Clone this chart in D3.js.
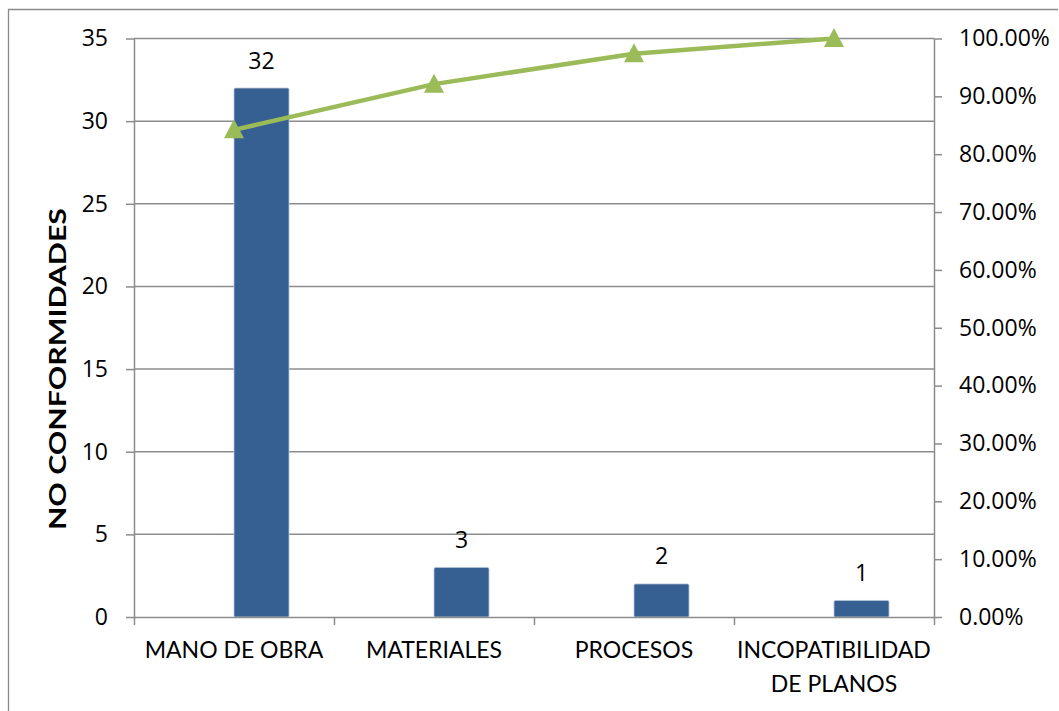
<!DOCTYPE html>
<html><head><meta charset="utf-8">
<script src="https://cdn.jsdelivr.net/npm/d3@7"></script>
<style>html,body{margin:0;padding:0;background:#fff;overflow:hidden}svg{display:block}text{font-family:Lato,"Open Sans",sans-serif;fill:#000}</style>
</head><body>
<svg id="c" width="1059" height="711"></svg>
<script>
const categories = ["MANO DE OBRA", "MATERIALES", "PROCESOS", "INCOPATIBILIDAD DE PLANOS"];
const categoryLines = [["MANO DE OBRA"], ["MATERIALES"], ["PROCESOS"], ["INCOPATIBILIDAD", "DE PLANOS"]];
const counts = [32, 3, 2, 1];
const cumulativePct = [0.8421, 0.9211, 0.9737, 1.0];
const leftTicks = [0, 5, 10, 15, 20, 25, 30, 35];
const rightTicks = [0, 0.1, 0.2, 0.3, 0.4, 0.5, 0.6, 0.7, 0.8, 0.9, 1.0];
const yTitle = "NO CONFORMIDADES";

const svg = d3.select("#c");
const L = 134, R = 934, T = 38.5, B = 617;
const gray = "#8c8c8c";
const FS = 23;
const NUMFONT = "'Open Sans', Lato, sans-serif";
const NFS = 23;

// outer border
svg.append("path").attr("d", `M8.5,711 V9.5 H1058`).attr("fill","none").attr("stroke","#8a8a8a").attr("stroke-width",1.3);

const x = d3.scaleBand().domain(categories).range([L, R]).padding(0);
const y = d3.scaleLinear().domain([0, 35]).range([B, T]);
const y2 = d3.scaleLinear().domain([0, 1]).range([B, T]);

// gridlines
svg.append("g").selectAll("line").data(leftTicks.filter(d=>d>0)).join("line")
  .attr("x1", L).attr("x2", R).attr("y1", d=>y(d)).attr("y2", d=>y(d))
  .attr("stroke", gray).attr("stroke-width", 1.5);

// bars: start at category center
const bw = 55;
svg.append("g").selectAll("rect").data(counts).join("rect")
  .attr("x", (d,i)=>x(categories[i]) + x.bandwidth()/2)
  .attr("y", d=>y(d)).attr("width", bw).attr("height", d=>B - y(d))
  .attr("fill", "#376092").attr("stroke", "#b7c4d6").attr("stroke-width", 0.8).attr("rx", 1.5);

// bar labels
svg.append("g").selectAll("text").data(counts).join("text")
  .attr("x", (d,i)=>x(categories[i]) + x.bandwidth()/2 + bw/2)
  .attr("y", d=>y(d) - 19.5).attr("text-anchor","middle")
  .style("font-family", NUMFONT).attr("font-size", NFS).text(d=>d);

// left axis
const gl = svg.append("g").attr("transform", `translate(${L},0)`)
  .call(d3.axisLeft(y).tickValues(leftTicks).tickSize(8).tickPadding(18).tickSizeOuter(0));
gl.select(".domain").attr("stroke", gray).attr("stroke-width", 1.5);
gl.selectAll(".tick line").attr("stroke", gray).attr("stroke-width", 1.5);
gl.selectAll(".tick text").attr("font-size", NFS).style("font-family", NUMFONT).attr("fill","#000");

// right axis
const gr = svg.append("g").attr("transform", `translate(${R},0)`)
  .call(d3.axisRight(y2).tickValues(rightTicks).tickSize(8).tickPadding(17).tickSizeOuter(0).tickFormat(d3.format(".2%")));
gr.select(".domain").attr("stroke", gray).attr("stroke-width", 1.5);
gr.selectAll(".tick line").attr("stroke", gray).attr("stroke-width", 1.5);
gr.selectAll(".tick text").attr("font-size", NFS).style("font-family", NUMFONT).attr("fill","#000");

// bottom axis
const xb = d3.scaleLinear().domain([0, categories.length]).range([L, R]);
const gb = svg.append("g").attr("transform", `translate(0,${B})`)
  .call(d3.axisBottom(xb).tickValues(d3.range(categories.length+1)).tickSize(8).tickFormat("").tickSizeOuter(0));
gb.select(".domain").attr("stroke", gray).attr("stroke-width", 1.5);
gb.selectAll(".tick line").attr("stroke", gray).attr("stroke-width", 1.5);

// category labels
const cl = svg.append("g").selectAll("text").data(categoryLines).join("text")
  .attr("x", (d,i)=>x(categories[i]) + x.bandwidth()/2)
  .attr("y", 658).attr("text-anchor","middle").attr("font-size", FS);
cl.selectAll("tspan").data(d=>d).join("tspan")
  .attr("x", function(){ return this.parentNode.getAttribute("x"); })
  .attr("dy", (d,i)=> i===0 ? 0 : 34).text(d=>d);

// y title
svg.append("text").attr("transform", `translate(66,369) rotate(-90)`)
  .attr("text-anchor","middle").attr("font-size", 22.5).attr("font-weight","bold")
  .attr("textLength", 322).attr("lengthAdjust", "spacingAndGlyphs").text(yTitle);

// cumulative line
const cx = (i)=> x(categories[i]) + x.bandwidth()/2;
svg.append("path").datum(cumulativePct)
  .attr("d", d3.line().x((d,i)=>cx(i)).y(d=>y2(d)))
  .attr("fill","none").attr("stroke","#9bbb59").attr("stroke-width", 4.5).attr("stroke-linejoin","round");
svg.append("g").selectAll("path").data(cumulativePct).join("path")
  .attr("transform", (d,i)=>`translate(${cx(i)},${y2(d)})`)
  .attr("d", "M0,-10.5 L10,8.5 L-10,8.5 Z").attr("fill","#9bbb59");
</script>
</body></html>
